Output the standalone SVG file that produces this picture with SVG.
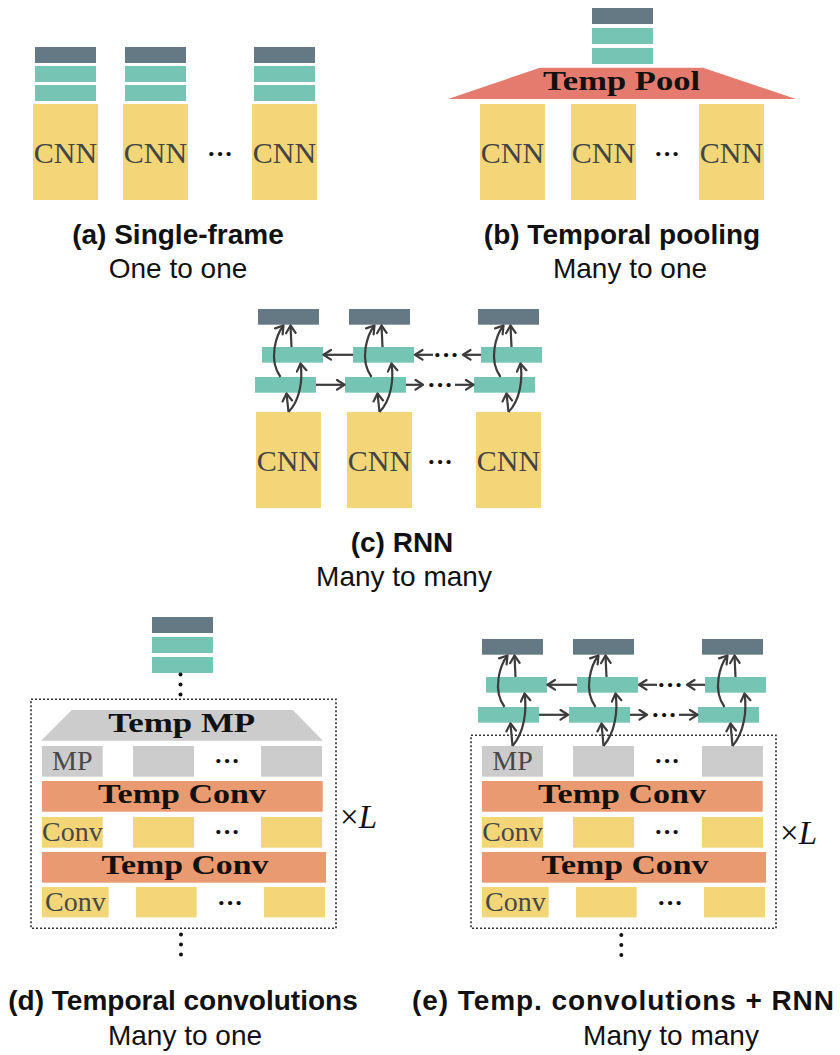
<svg xmlns="http://www.w3.org/2000/svg" width="840" height="1055" viewBox="0 0 840 1055">
<defs>
<style>
.dk{fill:#657985}
.tl{fill:#76c5b4}
.yl{fill:#f3d678}
.gr{fill:#cccccc}
.or{fill:#e99a70}
.rd{fill:#e57b6e}
.cnn{font-family:"Liberation Serif",serif;font-size:30px;fill:#444;text-anchor:middle}
.lbl{font-family:"Liberation Serif",serif;font-size:28px;fill:#484848;text-anchor:middle}
.bold{font-family:"Liberation Serif",serif;font-size:28px;font-weight:bold;fill:#111;text-anchor:middle}
.dots{font-family:"Liberation Serif",serif;font-size:26px;font-weight:bold;fill:#111;text-anchor:middle}
.cap{font-family:"Liberation Sans",sans-serif;font-size:28px;font-weight:bold;fill:#111;text-anchor:middle}
.sub{font-family:"Liberation Sans",sans-serif;font-size:28px;fill:#111;text-anchor:middle}
.xl{font-family:"Liberation Serif",serif;font-size:33px;fill:#111}
.ar{fill:none;stroke:#3c3c3c;stroke-width:2.2;marker-end:url(#h)}
.box{fill:none;stroke:#333;stroke-width:1.6;stroke-dasharray:2 2}
.vd{fill:#111}
</style>
<marker id="h" markerUnits="userSpaceOnUse" markerWidth="14" markerHeight="14" refX="9" refY="6" orient="auto">
<path d="M1.5,1.2 L9,6 L1.5,10.8" fill="none" stroke="#3c3c3c" stroke-width="2.2" stroke-linejoin="round" stroke-linecap="round"/>
</marker>
</defs>

<!-- Panel (a) -->
<g id="a-col1">
<rect class="dk" x="35" y="47" width="61" height="16"/>
<rect class="tl" x="35" y="66" width="61" height="16"/>
<rect class="tl" x="35" y="85" width="61" height="16"/>
<rect class="yl" x="33" y="104" width="65" height="96"/>
<text class="cnn" x="65.5" y="163">CNN</text>
</g>
<g id="a-col2">
<rect class="dk" x="125" y="47" width="61" height="16"/>
<rect class="tl" x="125" y="66" width="61" height="16"/>
<rect class="tl" x="125" y="85" width="61" height="16"/>
<rect class="yl" x="123" y="104" width="65" height="96"/>
<text class="cnn" x="155.5" y="163">CNN</text>
</g>
<g id="a-dots"><text class="dots" x="220" y="162">···</text></g>
<g id="a-col3">
<rect class="dk" x="254" y="47" width="61" height="16"/>
<rect class="tl" x="254" y="66" width="61" height="16"/>
<rect class="tl" x="254" y="85" width="61" height="16"/>
<rect class="yl" x="252" y="104" width="65" height="96"/>
<text class="cnn" x="284.5" y="163">CNN</text>
</g>
<g id="a-caption">
<text class="cap" x="178" y="244">(a) Single-frame</text>
<text class="sub" x="178" y="278">One to one</text>
</g>

<!-- Panel (b) -->
<g id="b-top">
<rect class="dk" x="592" y="8" width="61" height="16"/>
<rect class="tl" x="592" y="28" width="61" height="16"/>
<rect class="tl" x="592" y="48" width="61" height="16"/>
</g>
<g id="b-pool">
<polygon class="rd" points="540,67.7 703,67.7 796,99 448,99"/>
<text class="bold" x="621.5" y="90" textLength="157" lengthAdjust="spacingAndGlyphs">Temp Pool</text>
</g>
<g id="b-col1"><rect class="yl" x="480" y="104" width="65" height="96"/><text class="cnn" x="512.5" y="163">CNN</text></g>
<g id="b-col2"><rect class="yl" x="571" y="104" width="65" height="96"/><text class="cnn" x="603.5" y="163">CNN</text></g>
<g id="b-dots"><text class="dots" x="667" y="162">···</text></g>
<g id="b-col3"><rect class="yl" x="699" y="104" width="65" height="96"/><text class="cnn" x="731.5" y="163">CNN</text></g>
<g id="b-caption">
<text class="cap" x="622" y="244">(b) Temporal pooling</text>
<text class="sub" x="630" y="278">Many to one</text>
</g>

<!-- Panel (c) -->
<g id="c-col1">
<rect class="dk" x="258" y="309" width="61" height="15.7"/>
<rect class="tl" x="262" y="347" width="61" height="15.7"/>
<rect class="tl" x="255" y="377" width="61" height="15.7"/>
<rect class="yl" x="256" y="412" width="65" height="96"/>
<text class="cnn" x="288.5" y="471">CNN</text>
</g>
<g id="c-col2">
<rect class="dk" x="349" y="309" width="61" height="15.7"/>
<rect class="tl" x="353" y="347" width="61" height="15.7"/>
<rect class="tl" x="345" y="377" width="61" height="15.7"/>
<rect class="yl" x="347" y="412" width="65" height="96"/>
<text class="cnn" x="379.5" y="471">CNN</text>
</g>
<g id="c-col3">
<rect class="dk" x="478" y="309" width="61" height="15.7"/>
<rect class="tl" x="481" y="347" width="61" height="15.7"/>
<rect class="tl" x="474" y="377" width="61" height="15.7"/>
<rect class="yl" x="476" y="412" width="65" height="96"/>
<text class="cnn" x="508.5" y="471">CNN</text>
</g>
<g id="c-dots">
<text class="dots" x="440" y="470">···</text>
<text class="dots" x="446" y="362.5">···</text>
<text class="dots" x="440" y="393">···</text>
</g>
<g id="c-caption">
<text class="cap" x="402" y="552">(c) RNN</text>
<text class="sub" x="404" y="586">Many to many</text>
</g>

<!-- Panel (d) -->
<g id="d-top">
<rect class="dk" x="152" y="617" width="61" height="16"/>
<rect class="tl" x="152" y="637" width="61" height="16"/>
<rect class="tl" x="152" y="657" width="61" height="16"/>
</g>
<g id="d-block">
<rect class="box" x="31" y="699.3" width="305" height="229"/>
<polygon class="gr" points="71.7,710 292.7,710 323,740.7 41,740.7"/>
<text class="bold" x="181.7" y="731.7" textLength="147" lengthAdjust="spacingAndGlyphs">Temp MP</text>
<rect class="gr" x="42" y="746" width="60.7" height="30.7"/>
<text class="lbl" x="72.3" y="770">MP</text>
<rect class="gr" x="133" y="746" width="61" height="30.7"/>
<text class="dots" x="227" y="769">···</text>
<rect class="gr" x="261" y="746" width="61" height="30.7"/>
<rect class="or" x="42" y="781" width="280.7" height="30.7"/>
<text class="bold" x="182" y="803.3" textLength="168" lengthAdjust="spacingAndGlyphs">Temp Conv</text>
<rect class="yl" x="42" y="817" width="60.7" height="30.7"/>
<text class="lbl" x="72.3" y="840.7">Conv</text>
<rect class="yl" x="133" y="817" width="61" height="30.7"/>
<text class="dots" x="227" y="840">···</text>
<rect class="yl" x="261" y="817" width="61" height="30.7"/>
<rect class="or" x="42" y="852" width="284" height="30.7"/>
<text class="bold" x="185" y="874.3" textLength="167" lengthAdjust="spacingAndGlyphs">Temp Conv</text>
<rect class="yl" x="42" y="887" width="66.7" height="30.3"/>
<text class="lbl" x="75.3" y="911">Conv</text>
<rect class="yl" x="136" y="887" width="60.7" height="30.3"/>
<text class="dots" x="230" y="911">···</text>
<rect class="yl" x="264" y="887" width="61" height="30.3"/>
<text class="xl" x="340" y="828">×<tspan font-style="italic">L</tspan></text>
</g>
<g id="d-caption">
<text class="cap" x="183" y="1010">(d) Temporal convolutions</text>
<text class="sub" x="185" y="1045">Many to one</text>
</g>

<!-- Panel (e) -->
<g id="e-col1">
<rect class="dk" x="482" y="639" width="61" height="15.7"/>
<rect class="tl" x="486" y="677" width="61" height="15.7"/>
<rect class="tl" x="478" y="707" width="61" height="15.7"/>
</g>
<g id="e-col2">
<rect class="dk" x="573" y="639" width="61" height="15.7"/>
<rect class="tl" x="577" y="677" width="61" height="15.7"/>
<rect class="tl" x="569" y="707" width="61" height="15.7"/>
</g>
<g id="e-col3">
<rect class="dk" x="702" y="639" width="61" height="15.7"/>
<rect class="tl" x="705" y="677" width="61" height="15.7"/>
<rect class="tl" x="698" y="707" width="61" height="15.7"/>
</g>
<g id="e-dots">
<text class="dots" x="670" y="692.5">···</text>
<text class="dots" x="664" y="723">···</text>
</g>
<g id="e-block">
<rect class="box" x="471" y="735.3" width="305" height="193"/>
<rect class="gr" x="482" y="746" width="61" height="30.7"/>
<text class="lbl" x="512.5" y="770">MP</text>
<rect class="gr" x="573" y="746" width="61" height="30.7"/>
<text class="dots" x="667" y="769">···</text>
<rect class="gr" x="702" y="746" width="61" height="30.7"/>
<rect class="or" x="482" y="781" width="280.7" height="30.7"/>
<text class="bold" x="622" y="803.3" textLength="168" lengthAdjust="spacingAndGlyphs">Temp Conv</text>
<rect class="yl" x="482" y="817" width="61" height="30.7"/>
<text class="lbl" x="512.5" y="840.7">Conv</text>
<rect class="yl" x="573" y="817" width="61" height="30.7"/>
<text class="dots" x="667" y="840">···</text>
<rect class="yl" x="702" y="817" width="61" height="30.7"/>
<rect class="or" x="482" y="852" width="284" height="30.7"/>
<text class="bold" x="625" y="874.3" textLength="167" lengthAdjust="spacingAndGlyphs">Temp Conv</text>
<rect class="yl" x="482" y="887" width="66.7" height="30.3"/>
<text class="lbl" x="515.3" y="911">Conv</text>
<rect class="yl" x="576" y="887" width="60.7" height="30.3"/>
<text class="dots" x="670" y="911">···</text>
<rect class="yl" x="704" y="887" width="61" height="30.3"/>
<text class="xl" x="780" y="844">×<tspan font-style="italic">L</tspan></text>
</g>
<g id="e-caption">
<text class="cap" x="623" y="1010" textLength="422" lengthAdjust="spacing">(e) Temp. convolutions + RNN</text>
<text class="sub" x="671" y="1045">Many to many</text>
</g>

<!-- connectors -->
<g id="connectors">
<path class="ar" d="M288.5,412 L286.5,393.5"/>
<path class="ar" d="M288.5,412 C300,400 303,380 300.5,363.5"/>
<path class="ar" d="M280.5,377 C268,360 276,335 283.5,325.5"/>
<path class="ar" d="M291.5,347 L290.5,325.5"/>
<path class="ar" d="M379.5,412 L377.5,393.5"/>
<path class="ar" d="M379.5,412 C391,400 394,380 391.5,363.5"/>
<path class="ar" d="M371.5,377 C359,360 367,335 374.5,325.5"/>
<path class="ar" d="M382.5,347 L381.5,325.5"/>
<path class="ar" d="M508.5,412 L506.5,393.5"/>
<path class="ar" d="M508.5,412 C520,400 523,380 520.5,363.5"/>
<path class="ar" d="M500.5,377 C488,360 496,335 503.5,325.5"/>
<path class="ar" d="M511.5,347 L510.5,325.5"/>
<path class="ar" d="M316,384.8 L344.5,384.8"/>
<path class="ar" d="M406,384.8 L423,384.8"/>
<path class="ar" d="M455,384.8 L473.5,384.8"/>
<path class="ar" d="M353,354.8 L323.5,354.8"/>
<path class="ar" d="M433,354.8 L415,354.8"/>
<path class="ar" d="M481,354.8 L463,354.8"/>
<circle class="vd" cx="180.5" cy="674.5" r="2"/>
<circle class="vd" cx="180.5" cy="684.5" r="2"/>
<circle class="vd" cx="180.5" cy="694.5" r="2"/>
<circle class="vd" cx="181" cy="934.5" r="2"/>
<circle class="vd" cx="181" cy="944.5" r="2"/>
<circle class="vd" cx="181" cy="954.5" r="2"/>
<path class="ar" d="M512.5,746 L510.5,723.5"/>
<path class="ar" d="M512.5,746 C524.5,732 527,710 524.5,693.5"/>
<path class="ar" d="M504.5,707 C492,690 500,665 507.5,655.5"/>
<path class="ar" d="M515.5,677 L514.5,655.5"/>
<path class="ar" d="M603.5,746 L601.5,723.5"/>
<path class="ar" d="M603.5,746 C615.5,732 618,710 615.5,693.5"/>
<path class="ar" d="M595.5,707 C583,690 591,665 598.5,655.5"/>
<path class="ar" d="M606.5,677 L605.5,655.5"/>
<path class="ar" d="M732.5,746 L730.5,723.5"/>
<path class="ar" d="M732.5,746 C744.5,732 747,710 744.5,693.5"/>
<path class="ar" d="M724.5,707 C712,690 720,665 727.5,655.5"/>
<path class="ar" d="M735.5,677 L734.5,655.5"/>
<path class="ar" d="M539,714.8 L568,714.8"/>
<path class="ar" d="M630,714.8 L647,714.8"/>
<path class="ar" d="M679,714.8 L697.5,714.8"/>
<path class="ar" d="M577,684.8 L547.5,684.8"/>
<path class="ar" d="M657,684.8 L639,684.8"/>
<path class="ar" d="M705,684.8 L687,684.8"/>
<circle class="vd" cx="621.3" cy="935" r="2"/>
<circle class="vd" cx="621.3" cy="945" r="2"/>
<circle class="vd" cx="621.3" cy="955" r="2"/>
</g>
</svg>
